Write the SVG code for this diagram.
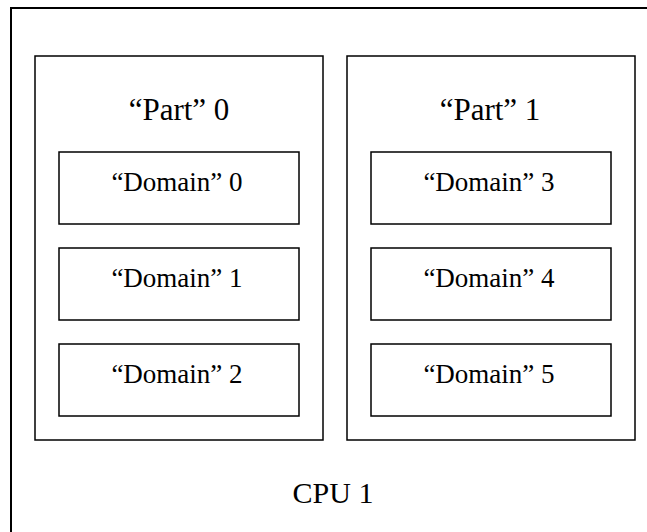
<svg xmlns="http://www.w3.org/2000/svg" width="647" height="532" viewBox="0 0 647 532">
  <style>
    .box { fill: #ffffff; stroke: #000000; stroke-width: 1.5; }
    .outer { fill: #ffffff; stroke: #000000; stroke-width: 2; }
    text { font-family: "Liberation Serif", "Times New Roman", serif; fill: #000000; text-anchor: middle; }
    .part { font-size: 31px; }
    .dom { font-size: 27px; }
    .cpu { font-size: 30px; }
  </style>
  <rect width="647" height="532" fill="#ffffff"/>

  <!-- CPU container (extends past the right and bottom edges) -->
  <g id="cpu1">
    <rect class="outer" x="11" y="8" width="660" height="560"/>
    <text class="cpu" x="333" y="503">CPU 1</text>
  </g>

  <!-- Part 0 with its domains -->
  <g id="part0">
    <rect class="box" x="35" y="56" width="288" height="384"/>
    <text class="part" x="179" y="120">“Part” 0</text>
  </g>
  <g id="domain0">
    <rect class="box" x="59" y="152" width="240" height="72"/>
    <text class="dom" x="177" y="191">“Domain” 0</text>
  </g>
  <g id="domain1">
    <rect class="box" x="59" y="248" width="240" height="72"/>
    <text class="dom" x="177" y="287">“Domain” 1</text>
  </g>
  <g id="domain2">
    <rect class="box" x="59" y="344" width="240" height="72"/>
    <text class="dom" x="177" y="383">“Domain” 2</text>
  </g>

  <!-- Part 1 with its domains -->
  <g id="part1">
    <rect class="box" x="347" y="56" width="288" height="384"/>
    <text class="part" x="490" y="120">“Part” 1</text>
  </g>
  <g id="domain3">
    <rect class="box" x="371" y="152" width="240" height="72"/>
    <text class="dom" x="489" y="191">“Domain” 3</text>
  </g>
  <g id="domain4">
    <rect class="box" x="371" y="248" width="240" height="72"/>
    <text class="dom" x="489" y="287">“Domain” 4</text>
  </g>
  <g id="domain5">
    <rect class="box" x="371" y="344" width="240" height="72"/>
    <text class="dom" x="489" y="383">“Domain” 5</text>
  </g>

  <g id="connectors"></g>
</svg>
